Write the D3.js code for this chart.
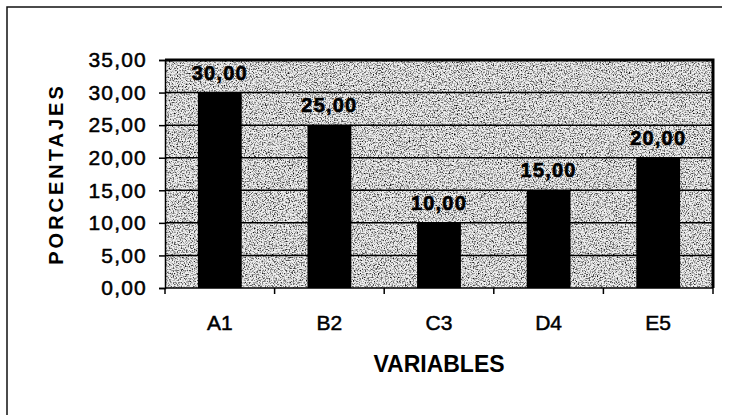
<!DOCTYPE html>
<html>
<head>
<meta charset="utf-8">
<script src="https://cdn.jsdelivr.net/npm/d3@7"></script>
<style>
  body { margin: 0; background: #fff; }
  svg { display: block; font-family: Arial, "Liberation Sans", sans-serif; }
</style>
</head>
<body>
<div id="chart"></div>
<script>
const categories = ["A1", "B2", "C3", "D4", "E5"];
const values = [30, 25, 10, 15, 20];
const yTicks = [0, 5, 10, 15, 20, 25, 30, 35];

const width = 735;
const height = 415;
const margin = {top: 60, right: 22, bottom: 127, left: 165};
const fmt = v => v.toFixed(2).replace(".", ",");

const x = d3.scaleBand()
    .domain(categories)
    .range([margin.left, width - margin.right])
    .paddingInner(0.6)
    .paddingOuter(0.3);

const y = d3.scaleLinear()
    .domain([0, 35])
    .range([height - margin.bottom, margin.top]);

const svg = d3.select("#chart").append("svg")
    .attr("width", width)
    .attr("height", height);

// scanned-paper speckle for the plot background
const filter = svg.append("defs").append("filter")
    .attr("id", "grain")
    .attr("x", 0).attr("y", 0).attr("width", 1).attr("height", 1);
filter.append("feTurbulence")
    .attr("type", "fractalNoise")
    .attr("baseFrequency", 0.75)
    .attr("numOctaves", 3)
    .attr("seed", 7)
    .attr("result", "n");
filter.append("feColorMatrix")
    .attr("in", "n")
    .attr("type", "matrix")
    .attr("values", "0 0 0 0 0  0 0 0 0 0  0 0 0 0 0  2.6 0 0 0 -1.18");

// outer frame (only top and left edges show)
svg.append("path")
    .attr("d", `M7,${height}V7H722`)
    .attr("fill", "none")
    .attr("stroke", "#111")
    .attr("stroke-width", 1.5);

const x0 = margin.left, x1 = width - margin.right;
const y0 = y(0), y1 = y(35);

// plot background
svg.append("rect")
    .attr("x", x0).attr("y", y1)
    .attr("width", x1 - x0).attr("height", y0 - y1)
    .attr("fill", "#efefef");
svg.append("rect")
    .attr("x", x0).attr("y", y1)
    .attr("width", x1 - x0).attr("height", y0 - y1)
    .attr("fill", "#000")
    .attr("filter", "url(#grain)");

// gridlines
svg.append("g")
  .selectAll("line")
  .data(yTicks.slice(1))
  .join("line")
    .attr("x1", x0).attr("x2", x1)
    .attr("y1", d => y(d)).attr("y2", d => y(d))
    .attr("stroke", "#000")
    .attr("stroke-width", 1.5);

// top and right border of plot area
svg.append("path")
    .attr("d", `M${x0},${y1}H${x1}V${y0}`)
    .attr("fill", "none")
    .attr("stroke", "#000")
    .attr("stroke-width", 3);

// bars
svg.append("g")
  .selectAll("rect")
  .data(values)
  .join("rect")
    .attr("x", (d, i) => x(categories[i]))
    .attr("y", d => y(d))
    .attr("width", x.bandwidth())
    .attr("height", d => y0 - y(d))
    .attr("fill", "#000");

// y axis
const yAxis = svg.append("g")
    .attr("transform", `translate(${x0},0)`)
    .call(d3.axisLeft(y).tickValues(yTicks).tickFormat(fmt).tickSizeOuter(0).tickSize(6).tickPadding(12));
yAxis.select(".domain").attr("stroke", "#000").attr("stroke-width", 1.5);
yAxis.selectAll(".tick line").attr("stroke", "#000").attr("stroke-width", 1.5);
yAxis.selectAll("text")
    .attr("fill", "#000")
    .attr("stroke", "#000")
    .attr("stroke-width", 0.5)
    .style("font-size", "21px")
    .style("letter-spacing", "1.2px")
    .attr("font-family", null);

// x axis: ticks at category boundaries
const bounds = d3.range(categories.length + 1).map(i => x0 + i * (x1 - x0) / categories.length);
svg.append("line")
    .attr("x1", x0).attr("x2", x1)
    .attr("y1", y0).attr("y2", y0)
    .attr("stroke", "#000").attr("stroke-width", 1.5);
svg.append("g")
  .selectAll("line")
  .data(bounds)
  .join("line")
    .attr("x1", d => d).attr("x2", d => d)
    .attr("y1", y0).attr("y2", y0 + 6)
    .attr("stroke", "#000").attr("stroke-width", 1.5);

svg.append("g")
  .selectAll("text")
  .data(categories)
  .join("text")
    .attr("x", d => x(d) + x.bandwidth() / 2)
    .attr("y", 330)
    .attr("text-anchor", "middle")
    .attr("stroke", "#000")
    .attr("stroke-width", 0.5)
    .style("font-size", "21px")
    .text(d => d);

// value labels
svg.append("g")
  .selectAll("text")
  .data(values)
  .join("text")
    .attr("x", (d, i) => x(categories[i]) + x.bandwidth() / 2)
    .attr("y", d => y(d) - 13)
    .attr("text-anchor", "middle")
    .attr("stroke", "#000")
    .attr("stroke-width", 0.6)
    .style("font-size", "20px")
    .style("font-weight", "bold")
    .style("letter-spacing", "1.2px")
    .text(fmt);

// axis titles
svg.append("text")
    .attr("x", (x0 + x1) / 2)
    .attr("y", 372)
    .attr("text-anchor", "middle")
    .style("font-size", "23px")
    .style("font-weight", "bold")
    .text("VARIABLES");

svg.append("text")
    .attr("transform", `translate(63,${(y0 + y1) / 2}) rotate(-90)`)
    .attr("text-anchor", "middle")
    .style("font-size", "20px")
    .style("font-weight", "bold")
    .style("letter-spacing", "3px")
    .text("PORCENTAJES");
</script>
</body>
</html>
